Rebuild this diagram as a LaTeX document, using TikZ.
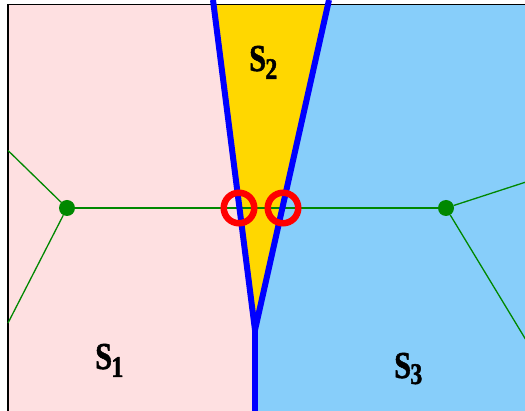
\documentclass[tikz,border=0pt]{standalone}
\usepackage{fontspec}
\usepackage{graphicx}
\setmainfont{Liberation Serif}[BoldFont={Liberation Serif Bold}]
\newfontfamily\labfont{Liberation Serif Bold}[FakeBold=1.5]
\definecolor{pinkbg}{RGB}{254,224,225}
\definecolor{goldbg}{RGB}{255,215,0}
\definecolor{bluebg}{RGB}{135,206,250}
\definecolor{dgreen}{RGB}{0,136,0}
\newcommand{\slab}[2]{\scalebox{0.8}[1]{S\kern-1pt\raisebox{-#2}{\fontsize{30}{30}\selectfont #1}}}
\tikzset{
  voro/.style={blue, line width=6pt, line join=miter},
  bis/.style={dgreen, line width=1.3pt},
  site/.style={circle, fill=dgreen, inner sep=0pt, minimum size=16pt},
  hit/.style={circle, draw=red, line width=6.5pt, inner sep=0pt, minimum size=30.5pt},
  lab/.style={anchor=base west, inner sep=0pt, font=\labfont\fontsize{38}{38}\selectfont}
}
\begin{document}
\begin{tikzpicture}[x=1pt,y=-1pt]
\useasboundingbox (0,0) rectangle (525,411);
\fill[white] (0,0) rectangle (525,411);
% regions
\fill[pinkbg] (8,4.5) -- (213,4.5) -- (255,330) -- (255,411) -- (8,411) -- cycle;
\fill[goldbg] (213,4.5) -- (328.5,4.5) -- (255,330) -- cycle;
\fill[bluebg] (328.5,4.5) -- (530,4.5) -- (530,411) -- (255,411) -- (255,330) -- cycle;
% frame
\draw[black, line width=1.3pt] (8,416) -- (8,4.5) -- (530,4.5);
% sites
\node[site] (p1) at (67,208) {};
\node[site] (p3) at (446,208) {};
\coordinate (l1) at (8,150.5);
\coordinate (l2) at (8,323);
\coordinate (r1) at (526,182);
\coordinate (r2) at (526,340);
\draw[bis] (p1) -- (p3);
\draw[bis] (p1) -- (l1);
\draw[bis] (p1) -- (l2);
\draw[bis] (p3) -- (r1);
\draw[bis] (p3) -- (r2);
% voronoi edges
\coordinate (ta) at (213,0);
\coordinate (tb) at (329,0);
\coordinate (v) at (255,330);
\coordinate (bot) at (255,415);
\draw[voro] (ta) -- (v) -- (tb);
\draw[voro] (v) -- (bot);
% intersections
\node[hit] (c1) at (239,208) {};
\node[hit] (c2) at (283,208) {};
% labels
\node[lab] (s1) at (95,369) {\slab{1}{8pt}};
\node[lab] (s2) at (249,71) {\slab{2}{8pt}};
\node[lab] (s3) at (394,378) {\slab{3}{6pt}};
\end{tikzpicture}
\end{document}
